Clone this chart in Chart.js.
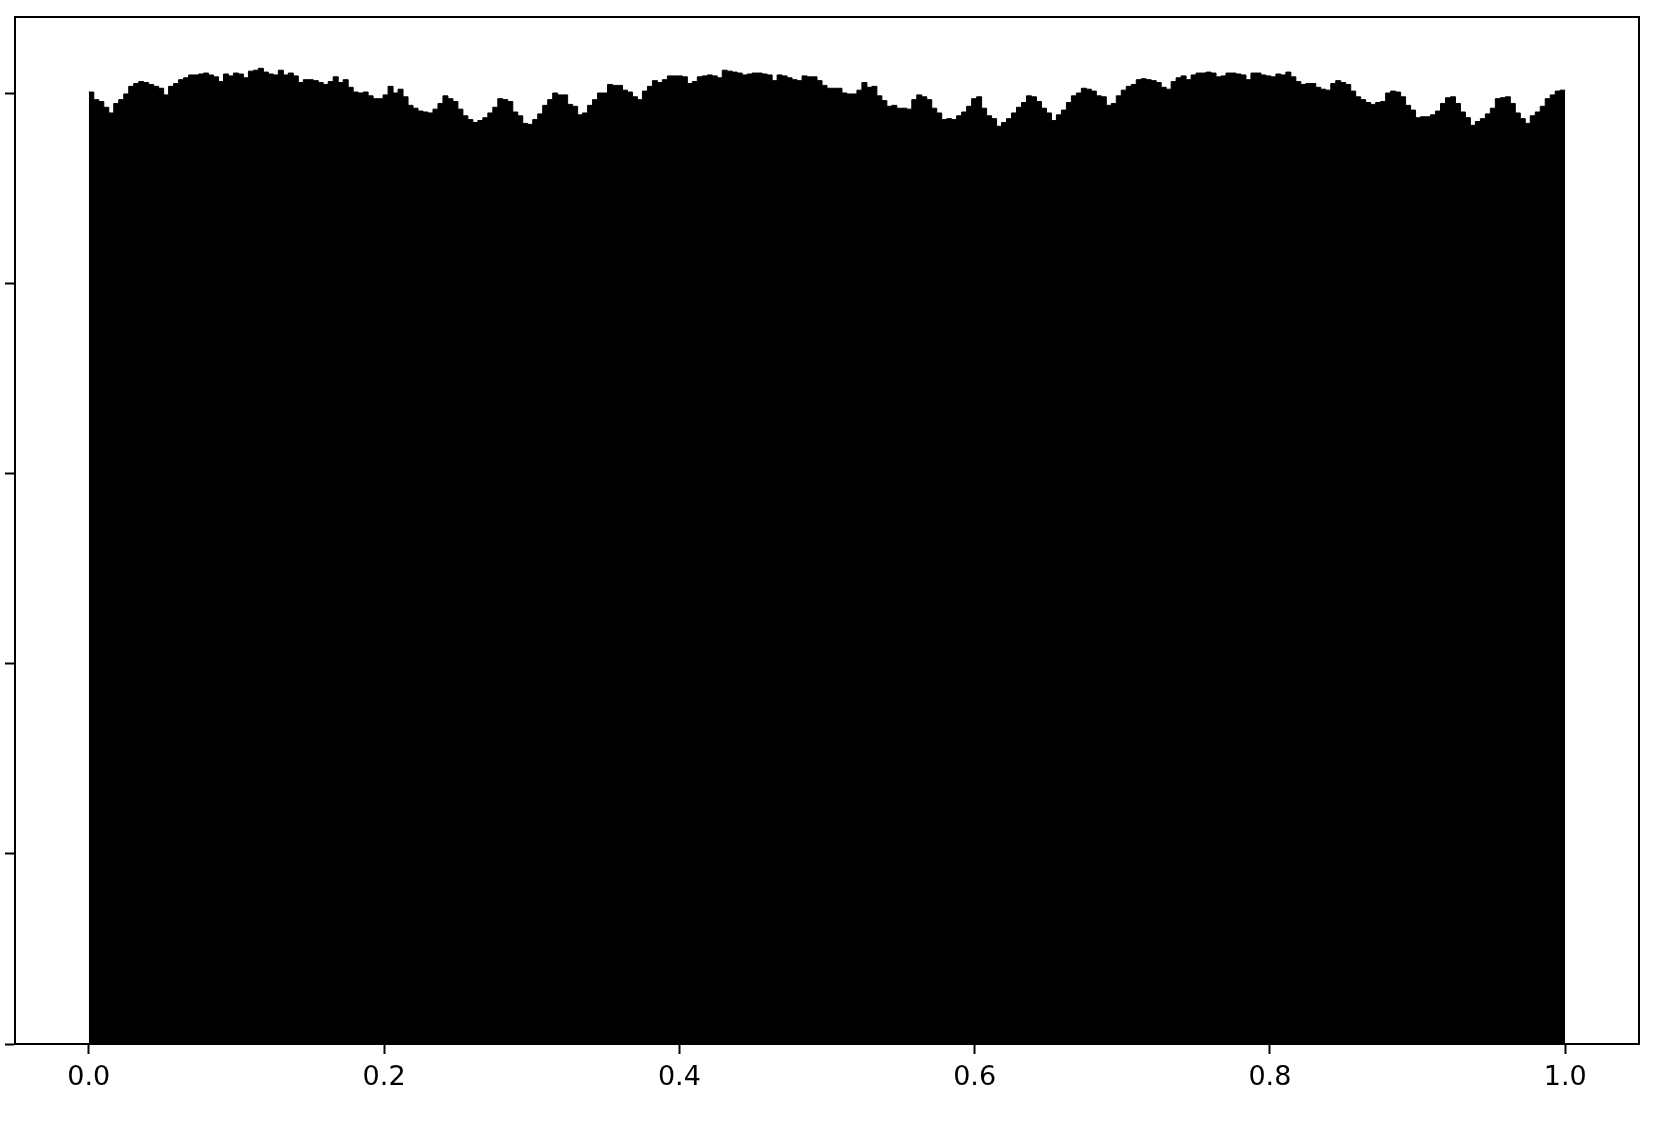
<!DOCTYPE html>
<html>
<head>
<meta charset="utf-8">
<script src="https://cdn.jsdelivr.net/npm/chart.js@4.4.1/dist/chart.umd.min.js"></script>
<style>
  html, body { margin: 0; padding: 0; background: #fff; }
  canvas { display: block; }
</style>
</head>
<body>
<canvas id="histChart" width="1654" height="1123"></canvas>
<script>
// histogram heights (density), 296 equal bins over [0, 1]
const binValues = [
    1.002, 0.994, 0.992, 0.986, 0.980, 0.990, 0.994, 1.000, 1.008, 1.011,
    1.013, 1.012, 1.010, 1.008, 1.006, 0.999, 1.008, 1.011, 1.015, 1.017,
    1.020, 1.020, 1.021, 1.022, 1.020, 1.018, 1.013, 1.021, 1.019, 1.022,
    1.021, 1.017, 1.024, 1.025, 1.027, 1.023, 1.021, 1.020,
    1.025, 1.020, 1.022, 1.019, 1.012, 1.015, 1.015, 1.014, 1.012, 1.010,
    1.013, 1.018, 1.012, 1.015, 1.007, 1.002, 1.001, 1.002, 0.998, 0.995,
    0.995, 0.999, 1.008, 1.001, 1.005, 0.997, 0.988, 0.985, 0.982, 0.981,
    0.980, 0.984, 0.990, 0.998, 0.995, 0.992, 0.984, 0.977,
    0.973, 0.970, 0.972, 0.975, 0.980, 0.986, 0.995, 0.994, 0.992, 0.981,
    0.977, 0.969, 0.968, 0.973, 0.979, 0.988, 0.994, 1.001, 0.999, 0.999,
    0.989, 0.987, 0.978, 0.980, 0.988, 0.994, 1.001, 1.001, 1.010, 1.009,
    1.009, 1.004, 1.002, 0.997, 0.994, 1.003, 1.008, 1.014,
    1.012, 1.015, 1.019, 1.019, 1.019, 1.018, 1.011, 1.013, 1.018, 1.019,
    1.020, 1.019, 1.017, 1.025, 1.024, 1.023, 1.022, 1.020, 1.021, 1.022,
    1.022, 1.021, 1.020, 1.014, 1.020, 1.019, 1.017, 1.015, 1.014, 1.019,
    1.018, 1.018, 1.014, 1.009, 1.006, 1.006, 1.006, 1.001,
    1.000, 1.000, 1.004, 1.012, 1.007, 1.008, 0.998, 0.993, 0.987, 0.988,
    0.985, 0.985, 0.984, 0.994, 0.999, 0.997, 0.994, 0.985, 0.980, 0.973,
    0.974, 0.973, 0.977, 0.981, 0.987, 0.995, 0.997, 0.985, 0.977, 0.974,
    0.966, 0.970, 0.974, 0.980, 0.986, 0.991, 0.998, 0.997,
    0.992, 0.985, 0.980, 0.972, 0.978, 0.983, 0.991, 0.998, 1.001, 1.006,
    1.005, 1.003, 0.998, 0.997, 0.988, 0.990, 0.998, 1.004, 1.008, 1.010,
    1.015, 1.016, 1.015, 1.014, 1.012, 1.007, 1.005, 1.013, 1.017, 1.019,
    1.015, 1.020, 1.022, 1.022, 1.023, 1.022, 1.018, 1.019,
    1.022, 1.022, 1.021, 1.020, 1.015, 1.022, 1.022, 1.020, 1.019, 1.018,
    1.021, 1.020, 1.023, 1.018, 1.013, 1.010, 1.011, 1.011, 1.007, 1.005,
    1.004, 1.011, 1.014, 1.012, 1.010, 1.003, 0.997, 0.994, 0.991, 0.989,
    0.991, 0.992, 1.001, 1.003, 1.002, 0.997, 0.988, 0.983,
    0.975, 0.976, 0.976, 0.978, 0.982, 0.990, 0.996, 0.997, 0.990, 0.981,
    0.975, 0.967, 0.971, 0.974, 0.979, 0.985, 0.995, 0.996, 0.997, 0.990,
    0.980, 0.974, 0.969, 0.977, 0.981, 0.987, 0.995, 0.999, 1.003, 1.004
];
const binStart = 0;
const binEnd = 1;

const xTicks = [0.0, 0.2, 0.4, 0.6, 0.8, 1.0];
const yTicks = [0.0, 0.2, 0.4, 0.6, 0.8, 1.0];

// step points at the left edge of each bin, plus the closing right edge
const binWidth = (binEnd - binStart) / binValues.length;
const points = binValues.map((v, i) => ({ x: binStart + i * binWidth, y: v }));
points.push({ x: binEnd, y: binValues[binValues.length - 1] });

// box around the plot like matplotlib spines
const frameBox = {
    id: 'frameBox',
    afterDraw(chart) {
        const { ctx, chartArea: a } = chart;
        ctx.save();
        ctx.strokeStyle = '#000';
        ctx.lineWidth = 2;
        ctx.strokeRect(a.left, a.top, a.right - a.left, a.bottom - a.top);
        ctx.restore();
    }
};

Chart.defaults.font.family = "'DejaVu Sans', sans-serif";
Chart.defaults.font.size = 27;
Chart.defaults.color = '#000';

const ctx = document.getElementById('histChart').getContext('2d');
new Chart(ctx, {
    type: 'line',
    data: {
        datasets: [{
            data: points,
            stepped: true,
            fill: 'origin',
            backgroundColor: '#000',
            borderColor: '#000',
            borderWidth: 1,
            pointRadius: 0,
            tension: 0
        }]
    },
    options: {
        responsive: false,
        animation: false,
        events: [],
        layout: { padding: { top: 17, right: 15, left: 0, bottom: 0 } },
        plugins: {
            legend: { display: false },
            tooltip: { enabled: false }
        },
        scales: {
            x: {
                type: 'linear',
                min: -0.05,
                max: 1.05,
                afterBuildTicks: scale => { scale.ticks = xTicks.map(v => ({ value: v })); },
                afterFit: scale => { scale.height = 79; },
                grid: {
                    drawOnChartArea: false,
                    drawTicks: true,
                    tickLength: 10,
                    tickWidth: 2,
                    tickColor: '#000'
                },
                border: { display: true, color: '#000', width: 2 },
                ticks: {
                    padding: 8,
                    maxRotation: 0,
                    autoSkip: false,
                    callback: v => v.toFixed(1)
                }
            },
            y: {
                type: 'linear',
                min: 0,
                max: 1.081,
                afterBuildTicks: scale => { scale.ticks = yTicks.map(v => ({ value: v })); },
                afterFit: scale => { scale.width = 15; },
                grid: {
                    drawOnChartArea: false,
                    drawTicks: true,
                    tickLength: 10,
                    tickWidth: 2,
                    tickColor: '#000'
                },
                border: { display: true, color: '#000', width: 2 },
                ticks: { display: false }
            }
        }
    },
    plugins: [frameBox]
});
</script>
</body>
</html>
